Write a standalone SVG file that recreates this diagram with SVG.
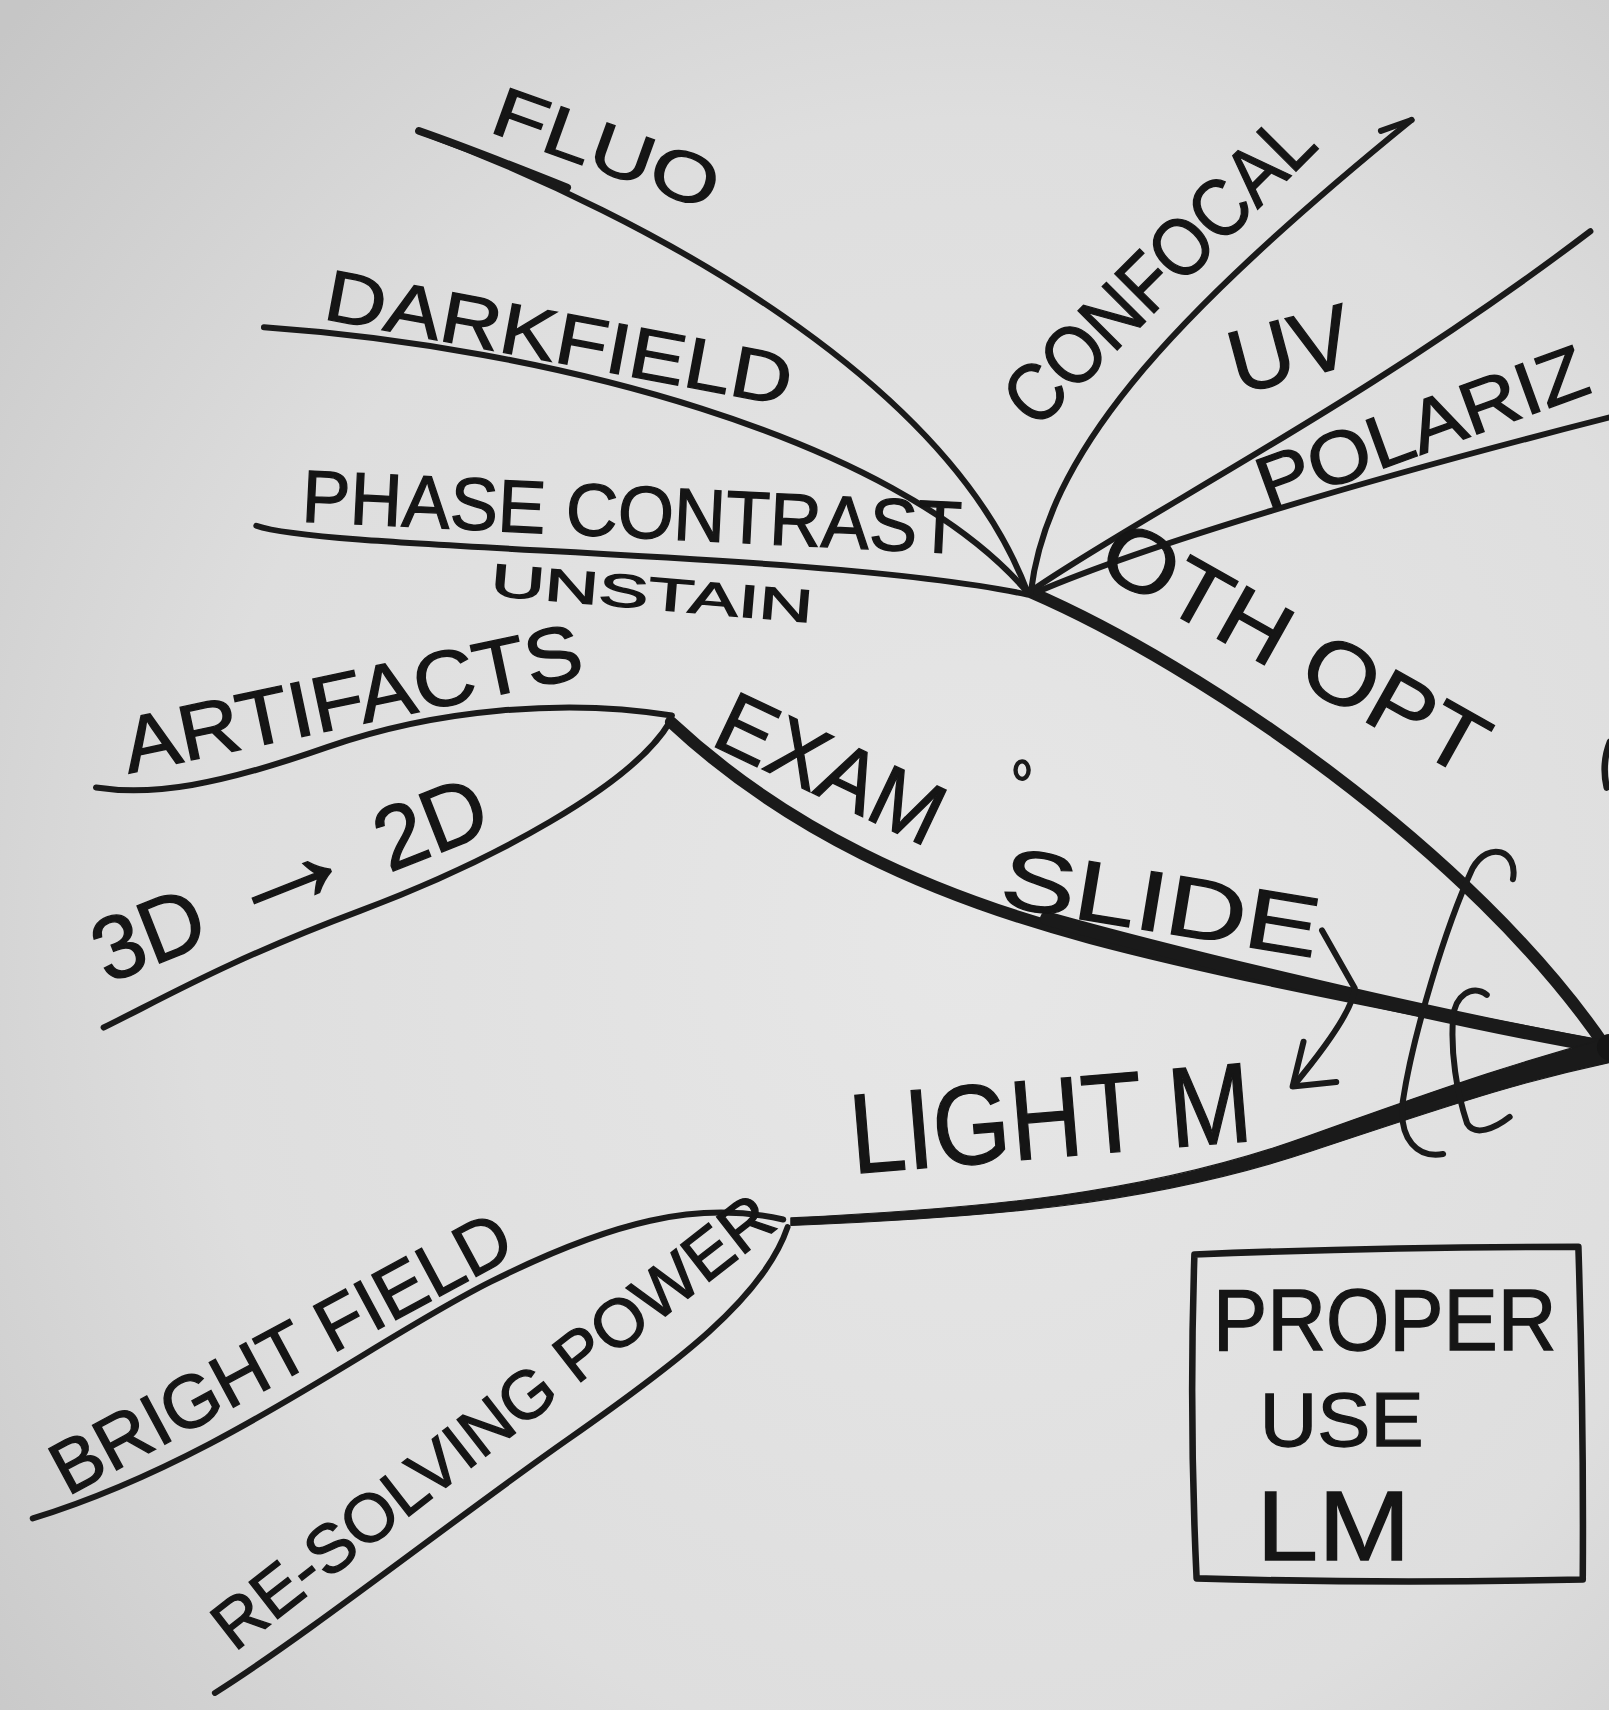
<svg xmlns="http://www.w3.org/2000/svg" width="1609" height="1710" viewBox="0 0 1609 1710">
<defs>
<radialGradient id="paper" cx="0.6" cy="0.55" r="0.8">
<stop offset="0" stop-color="#e7e7e7"/>
<stop offset="0.6" stop-color="#dedede"/>
<stop offset="1" stop-color="#c6c6c6"/>
</radialGradient>
<style>
.ink{fill:#151515;stroke:#151515;stroke-width:1.2;font-family:"Liberation Sans","DejaVu Sans",sans-serif;}
.ln{fill:none;stroke:#1a1a1a;stroke-linecap:round;stroke-linejoin:round;}
.thin{stroke-width:5.5;}
.thick{stroke-width:11;}
.fillink{fill:#1a1a1a;stroke:#1a1a1a;stroke-width:1;stroke-linejoin:round;}
</style>
</defs>
<rect width="1609" height="1710" fill="url(#paper)"/>
<g transform="scale(1.0908)">
<g id="connectors">
<!-- main branches -->
<path class="ln thick" d="M945,543 C1100,610 1350,780 1472,960"/>
<path class="ln thick" d="M615,662 C720,760 850,820 1000,860 S1350,935 1472,960"/>
<path class="ln" stroke-width="13" d="M960,842 C1060,870 1300,930 1472,960"/>
<path class="fillink" d="M725,1116.5 C900,1108 1050,1095 1198,1042 C1346,989 1398,972 1476,951 L1476,974 C1402,990 1356,1004 1203,1055 C1050,1106 900,1116 725,1123.5 Z"/>
<circle cx="1476" cy="960" r="12" fill="#151515"/>
<!-- OTH OPT sub-branches -->
<path class="ln thin" d="M384,120 C600,200 870,350 942,543"/>
<path class="ln" stroke-width="7" d="M384,120 C430,136 480,156 520,172"/>
<path class="ln thin" d="M242,300 C500,318 820,400 942,543"/>
<path class="ln thin" d="M235,482 C300,505 750,505 942,545"/>
<path class="ln thin" d="M945,543 C960,420 1060,300 1294,110"/>
<path class="ln thin" d="M1294,110 L1266,120"/>
<path class="ln thin" d="M948,540 C1050,470 1250,370 1458,212"/>
<path class="ln thin" d="M950,543 C1050,500 1250,440 1478,382"/>
<!-- EXAM SLIDE sub-branches -->
<path class="ln thin" d="M616,656 C520,640 400,650 300,685 S140,730 88,722"/>
<path class="ln thin" d="M614,662 C580,720 450,790 330,835 S150,915 95,942"/>
<!-- LIGHT M sub-branches -->
<path class="ln thin" d="M718,1118 C640,1100 560,1120 450,1175 S200,1340 30,1392"/>
<path class="ln thin" d="M722,1125 C700,1190 620,1250 520,1320 S280,1500 197,1552"/>
<!-- arcs near hub -->
<path class="ln thin" d="M1387,806 C1392,780 1365,770 1350,796 C1325,850 1295,950 1286,1010 C1282,1045 1300,1062 1323,1058"/>
<path class="ln thin" d="M1363,912 C1350,902 1333,912 1332,935 C1330,965 1335,1000 1345,1030 C1352,1042 1370,1035 1384,1024"/>
<!-- arrow slide -> light m -->
<path class="ln thin" d="M1212,853 L1242,906 Q1240,930 1187,994"/>
<path class="ln thin" d="M1195,955 L1185,996 L1225,992"/>
<!-- edge mark -->
<path class="ln" stroke-width="6" d="M1476,680 Q1468,700 1473,722"/>
<!-- small circle mark -->
<ellipse cx="937" cy="706" rx="6" ry="8" class="ln" stroke-width="4"/>
</g>

<g id="node-fluo"><text class="ink" x="447" y="120" font-size="64" textLength="216" lengthAdjust="spacingAndGlyphs" transform="rotate(19.8 447 120)">FLUO</text></g>
<g id="node-darkfield"><text class="ink" x="295" y="292" font-size="66" textLength="434" lengthAdjust="spacingAndGlyphs" transform="rotate(10.6 295 292)">DARKFIELD</text></g>
<g id="node-phase"><text class="ink" x="276" y="478" font-size="68" textLength="605" lengthAdjust="spacingAndGlyphs" transform="rotate(2.8 276 478)">PHASE CONTRAST</text></g>
<g id="node-unstain"><text class="ink" x="449" y="546" font-size="42" textLength="296" lengthAdjust="spacingAndGlyphs" transform="rotate(4.8 449 546)">UNSTAIN</text></g>
<g id="node-confocal"><text class="ink" x="950" y="395" font-size="74" textLength="368" lengthAdjust="spacingAndGlyphs" transform="rotate(-45 950 395)">CONFOCAL</text></g>
<g id="node-uv"><text class="ink" x="1135" y="362" font-size="82" textLength="114" lengthAdjust="spacingAndGlyphs" transform="rotate(-15 1135 362)">UV</text></g>
<g id="node-polariz"><text class="ink" x="1162" y="468" font-size="68" textLength="318" lengthAdjust="spacingAndGlyphs" transform="rotate(-20 1162 468)">POLARIZ</text></g>
<g id="node-othopt"><text class="ink" x="1003" y="522" font-size="80" textLength="392" lengthAdjust="spacingAndGlyphs" transform="rotate(29.3 1003 522)">OTH OPT</text></g>
<g id="node-artifacts"><text class="ink" x="118" y="709" font-size="72" textLength="429" lengthAdjust="spacingAndGlyphs" transform="rotate(-12 118 709)">ARTIFACTS</text></g>
<g id="node-3d2d"><text class="ink" x="98" y="902" font-size="82" textLength="382" lengthAdjust="spacingAndGlyphs" transform="rotate(-21.5 98 902)">3D <tspan font-size="130">→</tspan> 2D</text></g>
<g id="node-exam"><text class="ink" x="650" y="682" font-size="80" textLength="221" lengthAdjust="spacingAndGlyphs" transform="rotate(25.4 650 682)">EXAM</text></g>
<g id="node-slide"><text class="ink" x="915" y="830" font-size="78" textLength="294" lengthAdjust="spacingAndGlyphs" transform="rotate(9.4 915 830)">SLIDE</text></g>
<g id="node-lightm"><text class="ink" x="782" y="1076" font-size="104" textLength="369" lengthAdjust="spacingAndGlyphs" transform="rotate(-4.7 782 1076)">LIGHT M</text></g>
<g id="node-brightfield"><text class="ink" x="62" y="1372" font-size="68" textLength="469" lengthAdjust="spacingAndGlyphs" transform="rotate(-28.3 62 1372)">BRIGHT FIELD</text></g>
<g id="node-resolving"><text class="ink" x="215" y="1515" font-size="62" textLength="634" lengthAdjust="spacingAndGlyphs" transform="rotate(-38 215 1515)">RE-SOLVING POWER</text></g>
<g id="node-proper">
<path class="ln" stroke-width="6" d="M1095,1150 Q1270,1143 1447,1143 Q1452,1300 1451,1448 Q1270,1452 1097,1447 Q1090,1300 1095,1150 Z"/>
<text class="ink" x="1112" y="1238" font-size="80" textLength="315" lengthAdjust="spacingAndGlyphs">PROPER</text>
<text class="ink" x="1155" y="1326" font-size="70" textLength="150" lengthAdjust="spacingAndGlyphs">USE</text>
<text class="ink" x="1152" y="1430" font-size="90" textLength="141" lengthAdjust="spacingAndGlyphs">LM</text>
</g>
</g>
</svg>
